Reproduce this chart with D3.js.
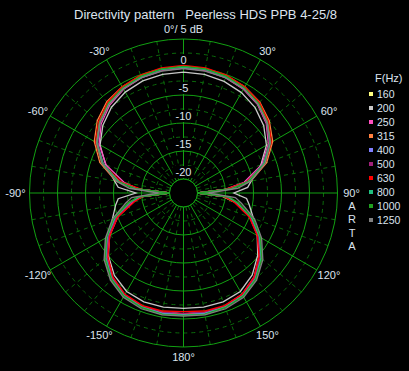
<!DOCTYPE html>
<html><head><meta charset="utf-8">
<script src="https://cdn.jsdelivr.net/npm/d3@7"></script>
<style>
html,body{margin:0;padding:0;background:#000;}
svg{display:block;}
text{font-family:"Liberation Sans",Arial,sans-serif;fill:#dce3ee;}
</style></head>
<body><svg id="c" width="409" height="371"></svg>
<script>
// ---- data ----
const title = "Directivity pattern   Peerless HDS PPB 4-25/8";
const angles = [0,10,20,30,40,50,60,70,80,85,90,95,100,110,120,130,140,150,160,170,180,190,200,210,220,230,240,250,260,265,270,275,280,290,300,310,320,330,340,350];
const freqs = ["160","200","250","315","400","500","630","800","1000","1250"];
const colors = ["#ffff80","#c8c8c8","#ff50c0","#ff8040","#8080ff","#a0207a","#ff0000","#20c080","#20a020","#808080"];
const f160 = [0.1,-0.1,-0.3,-0.8,-1.6,-2.8,-4.5,-7.0,-10.6,-14.8,-24,-15.5,-13.2,-9.5,-6.8,-4.4,-2.5,-1.3,-0.9,-0.8,-0.9,-0.9,-1.0,-1.4,-2.6,-4.4,-6.8,-9.4,-12.8,-15.2,-24,-14.6,-10.6,-7.0,-4.5,-2.8,-1.6,-0.8,-0.3,-0.1];
const f200 = [-0.9,-1.0,-1.3,-1.8,-2.6,-3.8,-5.4,-7.8,-10.2,-11.0,-13.5,-11.2,-10.6,-9.2,-7.3,-5.2,-3.4,-2.2,-1.8,-1.8,-1.9,-1.8,-1.8,-2.2,-3.3,-5.0,-7.2,-9.0,-10.2,-10.8,-14.0,-10.8,-10.0,-7.7,-5.3,-3.7,-2.5,-1.7,-1.2,-1.0];
const f250 = [-0.2,-0.3,-0.6,-1.1,-1.9,-3.2,-5.0,-7.6,-11.5,-15.0,-26,-14.8,-13.0,-9.9,-7.2,-4.9,-2.9,-1.6,-1.0,-0.8,-0.9,-0.8,-0.9,-1.5,-2.8,-4.8,-7.3,-10.0,-13.4,-14.6,-26,-14.4,-11.8,-7.8,-5.1,-3.3,-2.0,-1.1,-0.6,-0.3];
const f315 = [0.0,0.0,-0.2,-0.6,-1.3,-2.5,-4.1,-6.7,-10.3,-14.2,-23,-14.8,-12.8,-9.5,-6.8,-4.3,-2.5,-1.3,-0.9,-0.8,-0.9,-0.8,-0.9,-1.3,-2.4,-4.3,-6.6,-9.4,-12.6,-14.8,-23,-14.0,-10.2,-6.6,-4.1,-2.4,-1.2,-0.6,-0.2,0.0];
const f400 = [-0.1,-0.1,-0.4,-0.9,-1.7,-3.0,-4.7,-7.3,-10.9,-14.4,-22,-15.2,-13.1,-9.6,-6.9,-4.5,-2.6,-1.4,-0.8,-0.7,-0.7,-0.7,-0.8,-1.4,-2.6,-4.5,-6.9,-9.6,-13.0,-15.0,-22,-14.4,-10.8,-7.2,-4.6,-2.9,-1.7,-0.9,-0.4,-0.1];
const f500 = [-0.1,-0.2,-0.5,-1.0,-1.8,-3.1,-4.8,-7.4,-11.0,-14.6,-22,-15.0,-13.2,-9.8,-7.0,-4.6,-2.7,-1.5,-1.0,-0.9,-1.0,-0.9,-1.0,-1.5,-2.7,-4.6,-7.0,-9.7,-13.1,-15.1,-22,-14.6,-11.0,-7.3,-4.8,-3.1,-1.8,-1.0,-0.5,-0.2];
const f630 = [0.3,0.2,-0.1,-0.6,-1.4,-2.7,-4.4,-7.0,-11.0,-15.0,-27,-15.3,-13.4,-10.0,-7.3,-4.9,-2.9,-1.6,-1.1,-1.1,-1.3,-1.1,-1.1,-1.6,-2.9,-4.9,-7.3,-10.0,-13.6,-15.2,-27,-15.0,-11.2,-7.0,-4.4,-2.7,-1.4,-0.6,-0.1,0.2];
const f800 = [0.0,-0.1,-0.4,-0.9,-1.7,-3.0,-4.7,-7.3,-10.8,-14.0,-21,-14.6,-12.8,-9.5,-6.8,-4.4,-2.5,-1.3,-0.8,-0.6,-0.7,-0.6,-0.8,-1.3,-2.5,-4.4,-6.7,-9.4,-12.7,-14.6,-21,-14.0,-10.7,-7.2,-4.7,-3.0,-1.7,-0.9,-0.4,-0.1];
const f1000 = [0.1,0.0,-0.3,-0.8,-1.6,-2.9,-4.6,-7.1,-10.6,-13.8,-20.5,-14.3,-12.6,-9.3,-6.6,-4.2,-2.4,-1.2,-0.7,-0.5,-0.6,-0.5,-0.7,-1.2,-2.4,-4.2,-6.6,-9.2,-12.5,-14.3,-20.5,-13.8,-10.5,-7.0,-4.6,-2.9,-1.6,-0.8,-0.3,0.0];
const f1250 = [-0.3,-0.4,-0.6,-1.0,-1.8,-3.0,-4.6,-7.0,-10.3,-12.8,-18,-13.2,-12.0,-9.0,-6.4,-4.0,-2.2,-1.0,-0.5,-0.4,-0.5,-0.4,-0.5,-1.0,-2.2,-4.0,-6.4,-9.0,-12.0,-13.2,-18,-12.8,-10.3,-7.0,-4.6,-3.0,-1.8,-1.0,-0.6,-0.4];
const seriesValues = [f160,f200,f250,f315,f400,f500,f630,f800,f1000,f1250];
const ringsSolid = [-20,-15,-10,-5,0,5];
const ringsDashed = [-17.5,-12.5,-7.5,-2.5,2.5];
const dbLabels = [0,-5,-10,-15,-20];
const spokesSolid = [0,30,60,90,120,150,180,210,240,270,300,330];
const spokesDashed = [10,20,40,50,70,80,100,110,130,140,160,170,190,200,220,230,250,260,280,290,310,320,340,350];
const angleLabels = [[0,"0°/ 5 dB"],[30,"30°"],[60,"60°"],[90,"90°"],[120,"120°"],[150,"150°"],[180,"180°"],[-150,"-150°"],[-120,"-120°"],[-90,"-90°"],[-60,"-60°"],[-30,"-30°"]];
const brand = ["A","R","T","A"];

// ---- drawing ----
const svg = d3.select("#c");
svg.append("rect").attr("width",409).attr("height",371).attr("fill","#000");
const cx = 183.5, cy = 193;
const r = d3.scaleLinear().domain([-20,5]).range([14,154]).clamp(true);
const rad = a => a*Math.PI/180;
const g = svg.append("g").attr("transform",`translate(${cx},${cy})`);
const solidC = "#12a012", dashC = "#0b6a0b";

g.selectAll(".rd").data(ringsDashed).join("circle")
  .attr("r",d=>r(d)).attr("fill","none").attr("stroke",dashC).attr("stroke-dasharray","4,4");
g.selectAll(".sd").data(spokesDashed).join("line")
  .attr("x1",d=>r(-20)*Math.sin(rad(d))).attr("y1",d=>-r(-20)*Math.cos(rad(d)))
  .attr("x2",d=>r(5)*Math.sin(rad(d))).attr("y2",d=>-r(5)*Math.cos(rad(d)))
  .attr("stroke",dashC).attr("stroke-dasharray","4,4");
g.selectAll(".rs").data(ringsSolid).join("circle")
  .attr("r",d=>r(d)).attr("fill","none").attr("stroke",solidC);
g.selectAll(".ss").data(spokesSolid).join("line")
  .attr("x1",d=>r(-20)*Math.sin(rad(d))).attr("y1",d=>-r(-20)*Math.cos(rad(d)))
  .attr("x2",d=>r(5)*Math.sin(rad(d))).attr("y2",d=>-r(5)*Math.cos(rad(d)))
  .attr("stroke",solidC);

// dB labels with black background
const lab = g.selectAll(".dbl").data(dbLabels).join("g")
  .attr("transform",d=>`translate(0,${-(r(d)+7)})`);
lab.append("rect").attr("x",d=>-String(d).length*3.3-1).attr("y",-6)
  .attr("width",d=>String(d).length*6.6+2).attr("height",12).attr("fill","#000");
lab.append("text").attr("text-anchor","middle").attr("dy","0.36em")
  .attr("font-size",11).text(d=>String(d));

// series
const line = d3.lineRadial().angle(d=>rad(d[0])).radius(d=>r(d[1])).curve(d3.curveLinearClosed);
seriesValues.forEach((vals,i)=>{
  g.append("path").datum(angles.map((a,j)=>[a,vals[j]]))
   .attr("d",line).attr("fill","none").attr("stroke",colors[i]).attr("stroke-width",1.3);
});
g.append("circle").attr("r",r(-20)-0.5).attr("fill","#000").attr("stroke","none");
g.append("circle").attr("r",r(-20)).attr("fill","none").attr("stroke",solidC);

// angle labels
g.selectAll(".al").data(angleLabels).join("text")
  .attr("x",d=>168*Math.sin(rad(d[0]))).attr("y",d=>-164*Math.cos(rad(d[0])))
  .attr("text-anchor","middle").attr("dy","0.36em").attr("font-size",11).text(d=>d[1]);

// brand
svg.selectAll(".br").data(brand).join("text")
  .attr("x",352).attr("y",(d,i)=>206+i*13.5).attr("dy","0.36em")
  .attr("text-anchor","middle").attr("font-size",11).text(d=>d);

// title
svg.append("text").attr("x",74).attr("y",14).attr("dy","0.36em")
  .attr("font-size",13).style("white-space","pre").text(title);

// legend
svg.append("text").attr("x",375).attr("y",78).attr("dy","0.36em").attr("font-size",11).text("F(Hz)");
const lg = svg.selectAll(".lg").data(freqs).join("g")
  .attr("transform",(d,i)=>`translate(369,${94+i*14})`);
lg.append("rect").attr("x",0).attr("y",-2).attr("width",4).attr("height",4).attr("fill",(d,i)=>colors[i]);
lg.append("text").attr("x",8).attr("dy","0.36em").attr("font-size",10.5).text(d=>d);
</script></body></html>
